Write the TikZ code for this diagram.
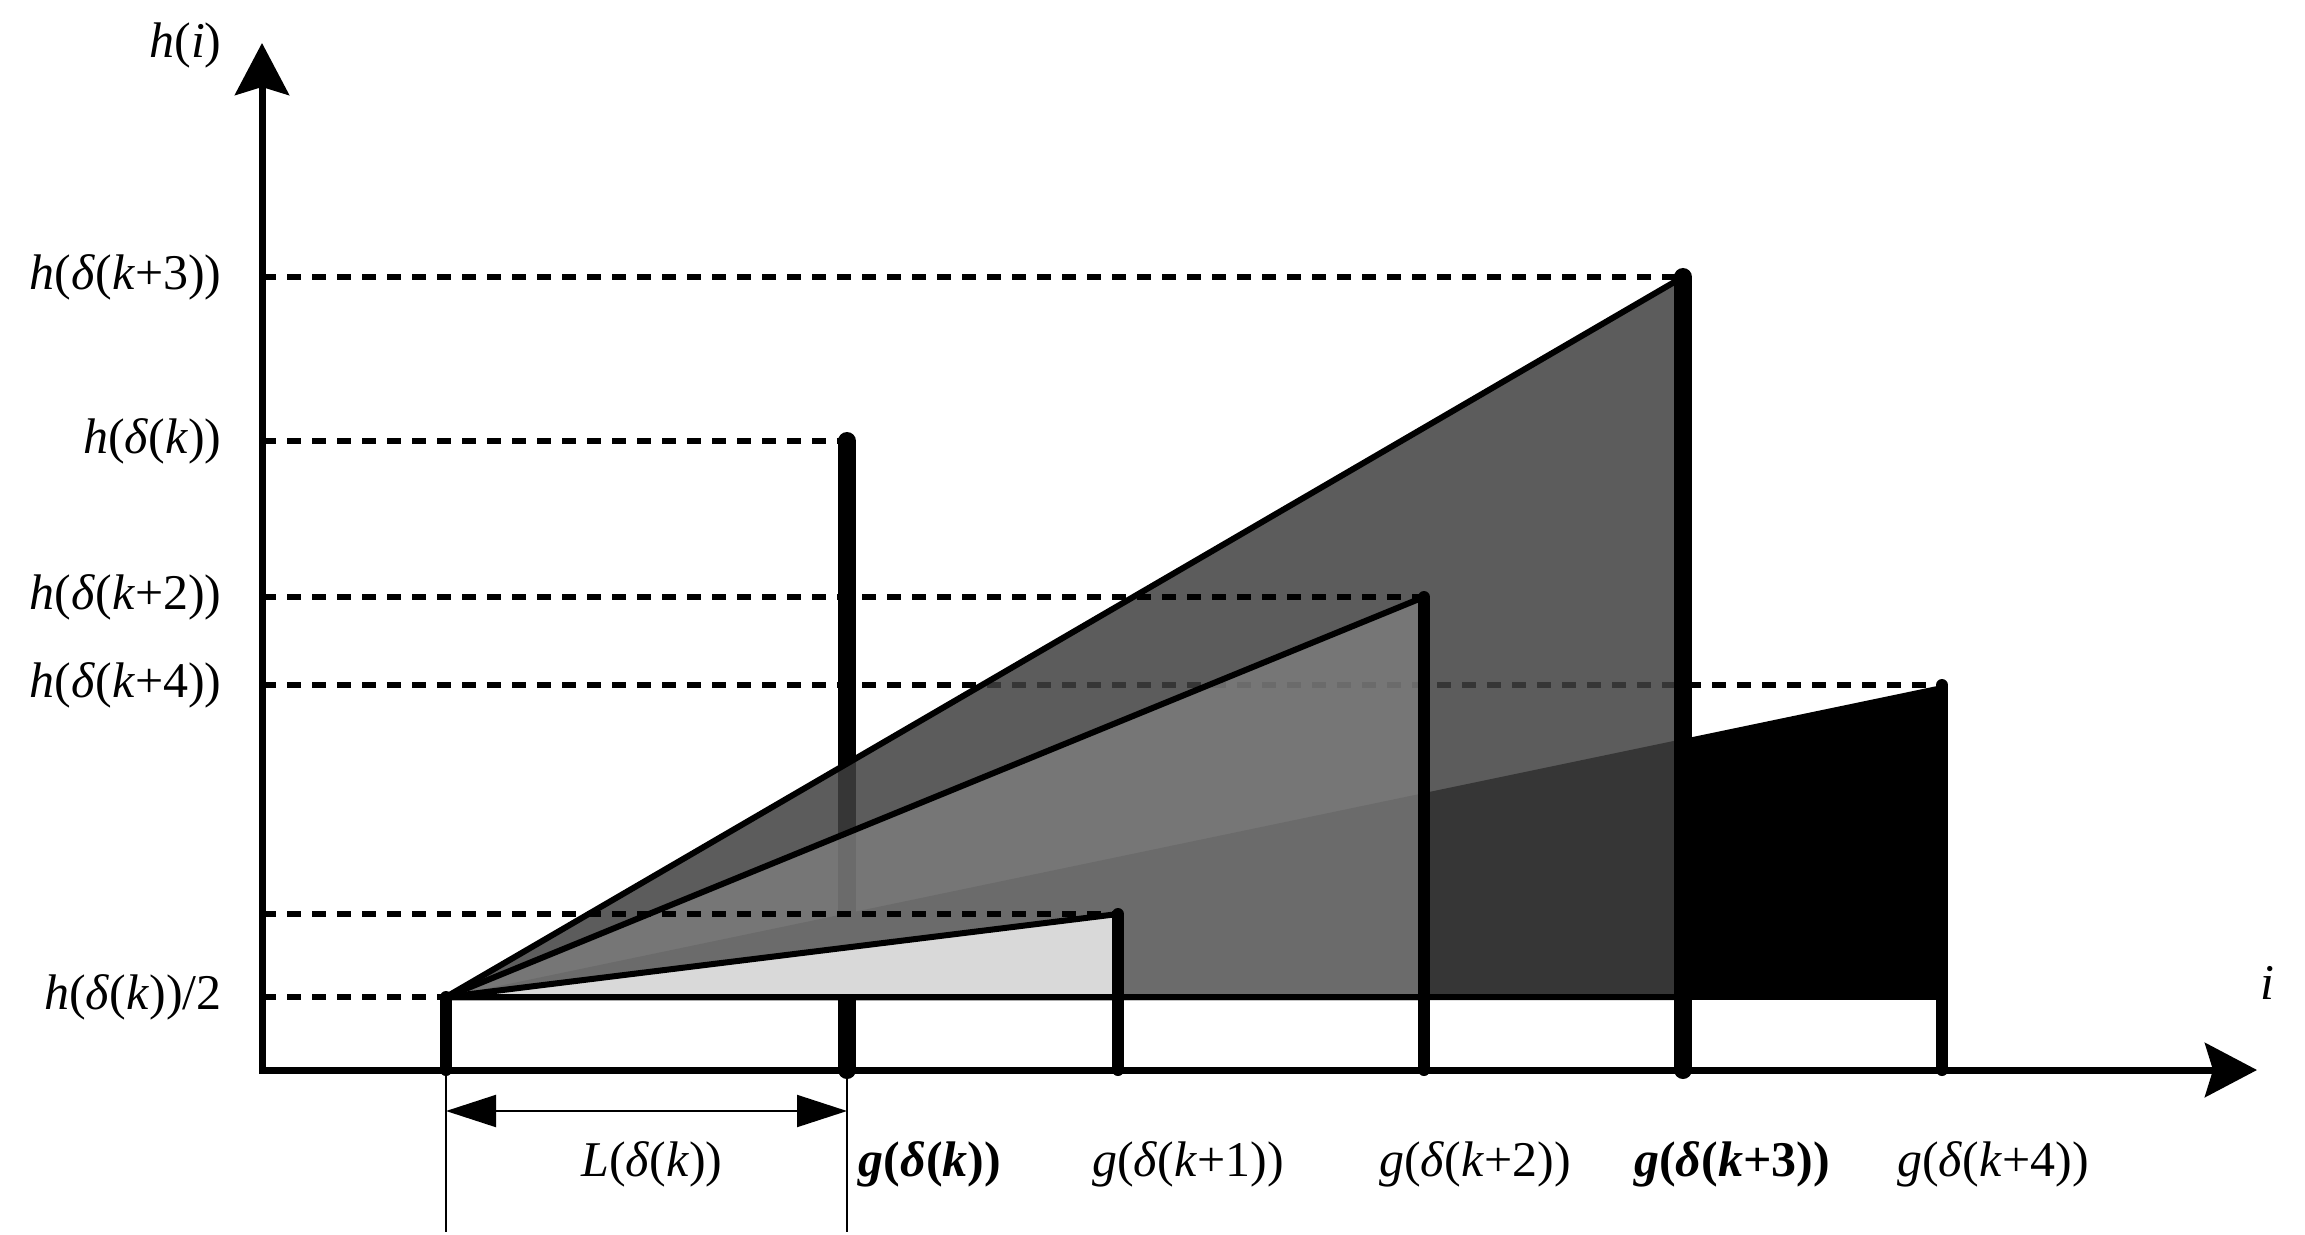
\documentclass[tikz,border=0pt]{standalone}
\usepackage{fontspec}
\setmainfont{Liberation Serif}
\usetikzlibrary{arrows.meta}
\begin{document}
\begin{tikzpicture}[x=0.5pt,y=-0.5pt,
  lbl/.style={inner sep=0pt, font=\fontsize{25}{30}\selectfont},
  axisline/.style={line width=3.5pt, line join=miter},
  guide/.style={line width=2.75pt, dash pattern=on 7pt off 5.5pt},
  edge/.style={line width=3pt, line join=round},
  thinbar/.style={line width=6pt, line cap=round},
  thickbar/.style={line width=9pt, line cap=round},
  dimline/.style={line width=1pt},
  axtip/.tip={Stealth[length=26pt,width=27pt,inset=4pt]},
  dimtip/.tip={Triangle[length=25pt,width=16pt]}
]
\useasboundingbox (0,0) rectangle (2305,1235);
% key points
\coordinate (O) at (446,997);
\coordinate (A) at (262,1070);
\coordinate (Ytip) at (262,43);
\coordinate (Xtip) at (2257,1070);
\coordinate (t0) at (847,441);
\coordinate (t1) at (1118,914);
\coordinate (t2) at (1424,597);
\coordinate (t3) at (1683,277);
\coordinate (t4) at (1942,685);
\coordinate (s1) at (1118,997);
\coordinate (s2) at (1424,997);
\coordinate (s3) at (1683,997);
\coordinate (s4) at (1942,997);
\coordinate (bO) at (446,1070);
\coordinate (b0) at (847,1070);
\coordinate (b1) at (1118,1070);
\coordinate (b2) at (1424,1070);
\coordinate (b3) at (1683,1070);
\coordinate (b4) at (1942,1070);
\coordinate (dO) at (446,1232);
\coordinate (d0) at (847,1232);
\coordinate (lO) at (446,1111);
\coordinate (l0) at (847,1111);

% under-layer
\draw[guide] (A |- t4) -- (t4);
\draw[thickbar] (t0) -- (b0);
\fill[black] (O) -- (t4) -- (s4) -- cycle;
\filldraw[edge, fill=black!75, fill opacity=0.85] (O) -- (t3) -- (s3) -- cycle;
\filldraw[edge, fill=black!50, fill opacity=0.73] (O) -- (t2) -- (s2) -- cycle;
\filldraw[edge, fill=black!15] (O) -- (t1) -- (s1) -- cycle;
\draw[edge] (O) -- (s4);

% dashed guides
\draw[guide] (A |- t3) -- (t3);
\draw[guide] (A |- t0) -- (t0);
\draw[guide] (A |- t2) -- (t2);
\draw[guide] (A |- t1) -- (t1);
\draw[guide] (A |- O) -- (O);

% axes
\draw[axisline, axtip-axtip] (Ytip) -- (A) -- (Xtip);

% bars
\draw[thinbar] (O) -- (bO);
\draw[thinbar] (t1) -- (b1);
\draw[thinbar] (t2) -- (b2);
\draw[thickbar] (t3) -- (b3);
\draw[thinbar] (t4) -- (b4);

% dimension
\draw[dimline] (bO) -- (dO);
\draw[dimline] (b0) -- (d0);
\draw[dimline, dimtip-dimtip] (lO) -- (l0);

% labels
\node[lbl, anchor=east] (lhi) at (222,45) {\textit{h}(\textit{i})};
\node[lbl, anchor=east] (lh3) at (222,277) {\textit{h}(\textit{δ}(\textit{k}+3))};
\node[lbl, anchor=east] (lh0) at (222,441) {\textit{h}(\textit{δ}(\textit{k}))};
\node[lbl, anchor=east] (lh2) at (222,597) {\textit{h}(\textit{δ}(\textit{k}+2))};
\node[lbl, anchor=east] (lh4) at (222,685) {\textit{h}(\textit{δ}(\textit{k}+4))};
\node[lbl, anchor=east] (lhh) at (222,997) {\textit{h}(\textit{δ}(\textit{k}))/2};
\node[lbl] (li) at (2267,983) {\textit{i}};
\node[lbl, anchor=base] (lL) at (652,1176) {\textit{L}(\textit{δ}(\textit{k}))};
\node[lbl, anchor=base] (lg0) at (930,1176) {\textbf{\textit{g}(\textit{δ}(\textit{k}))}};
\node[lbl, anchor=base] (lg1) at (1188,1176) {\textit{g}(\textit{δ}(\textit{k}+1))};
\node[lbl, anchor=base] (lg2) at (1475,1176) {\textit{g}(\textit{δ}(\textit{k}+2))};
\node[lbl, anchor=base] (lg3) at (1732,1176) {\textbf{\textit{g}(\textit{δ}(\textit{k}+3))}};
\node[lbl, anchor=base] (lg4) at (1993,1176) {\textit{g}(\textit{δ}(\textit{k}+4))};
\end{tikzpicture}
\end{document}
